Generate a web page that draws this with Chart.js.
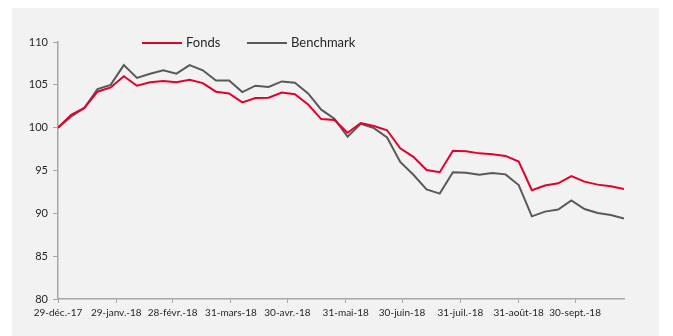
<!DOCTYPE html>
<html>
<head>
<meta charset="utf-8">
<script src="https://cdn.jsdelivr.net/npm/chart.js@4/dist/chart.umd.min.js"></script>
<style>
  html, body { margin: 0; padding: 0; background: #ffffff; }
  #wrap { position: relative; width: 673px; height: 336px; }
</style>
</head>
<body>
<div id="wrap"><canvas id="chart" width="673" height="336"></canvas></div>
<script>
// Weekly valuation dates (Fridays)
const dates = [
  '2017-12-29', '2018-01-05', '2018-01-12', '2018-01-19', '2018-01-26',
  '2018-02-02', '2018-02-09', '2018-02-16', '2018-02-23', '2018-03-02',
  '2018-03-09', '2018-03-16', '2018-03-23', '2018-03-30', '2018-04-06',
  '2018-04-13', '2018-04-20', '2018-04-27', '2018-05-04', '2018-05-11',
  '2018-05-18', '2018-05-25', '2018-06-01', '2018-06-08', '2018-06-15',
  '2018-06-22', '2018-06-29', '2018-07-06', '2018-07-13', '2018-07-20',
  '2018-07-27', '2018-08-03', '2018-08-10', '2018-08-17', '2018-08-24',
  '2018-08-31', '2018-09-07', '2018-09-14', '2018-09-21', '2018-09-28',
  '2018-10-05', '2018-10-12', '2018-10-19', '2018-10-26'
];

// Rebased performance (100 = 29/12/2017)
const fonds = [
  100, 101.5, 102.3, 104.2, 104.7, 106.0, 104.9, 105.3, 105.45, 105.3,
  105.6, 105.2, 104.2, 104.0, 102.95, 103.45, 103.5, 104.1, 103.9, 102.7,
  101.0, 100.9, 99.4, 100.55, 100.2, 99.7, 97.6, 96.6, 95.05, 94.8,
  97.3, 97.25, 97.0, 96.9, 96.7, 96.05, 92.7, 93.25, 93.5, 94.35,
  93.7, 93.35, 93.15, 92.85
];
const benchmark = [
  100, 101.3, 102.3, 104.5, 105.0, 107.3, 105.8, 106.3, 106.7, 106.3,
  107.3, 106.7, 105.5, 105.5, 104.15, 104.9, 104.75, 105.4, 105.25, 104.0,
  102.1, 101.05, 98.95, 100.45, 99.95, 98.85, 96.0, 94.5, 92.8, 92.3,
  94.8, 94.75, 94.5, 94.7, 94.55, 93.3, 89.65, 90.2, 90.45, 91.5,
  90.5, 90.05, 89.8, 89.4
];

// Date axis ticks and their labels
const tickDates = [
  '2017-12-29', '2018-01-29', '2018-02-28', '2018-03-31', '2018-04-30',
  '2018-05-31', '2018-06-30', '2018-07-31', '2018-08-31', '2018-09-30'
];
const tickLabels = [
  '29-déc.-17', '29-janv.-18', '28-févr.-18', '31-mars-18', '30-avr.-18',
  '31-mai-18', '30-juin-18', '31-juil.-18', '31-août-18', '30-sept.-18'
];
const yTicks = [80, 85, 90, 95, 100, 105, 110];

const seriesNames = ['Fonds', 'Benchmark'];
const seriesColors = ['#e4002b', '#595959'];

// Days elapsed since the first valuation date
const DAY = 86400000;
const origin = Date.parse(dates[0] + 'T00:00:00Z');
const toDay = d => Math.round((Date.parse(d + 'T00:00:00Z') - origin) / DAY);

const xDays = dates.map(toDay);
const tickDays = tickDates.map(toDay);

const FONT = 'Lato, "Open Sans", "DejaVu Sans", sans-serif';
const AXIS = '#a6a6a6';

const panelBackground = {
  id: 'panelBackground',
  beforeDraw(chart) {
    const ctx = chart.ctx;
    ctx.save();
    ctx.fillStyle = '#f2f2f2';
    ctx.fillRect(12, 8, 647, 328);
    ctx.restore();
  }
};

const lineLegend = {
  id: 'lineLegend',
  afterDraw(chart) {
    const ctx = chart.ctx;
    const y = 43;
    const items = [{ x: 142 }, { x: 247 }];
    ctx.save();
    ctx.font = '13px ' + FONT;
    ctx.textBaseline = 'middle';
    ctx.textAlign = 'left';
    chart.data.datasets.forEach((ds, i) => {
      const x0 = items[i].x;
      ctx.strokeStyle = ds.borderColor;
      ctx.lineWidth = 2;
      ctx.beginPath();
      ctx.moveTo(x0, y);
      ctx.lineTo(x0 + 40, y);
      ctx.stroke();
      ctx.fillStyle = '#262626';
      ctx.fillText(ds.label, x0 + 44, y);
    });
    ctx.restore();
  }
};

new Chart(document.getElementById('chart'), {
  type: 'line',
  data: {
    datasets: [
      {
        label: seriesNames[0],
        data: xDays.map((x, i) => ({ x, y: fonds[i] })),
        borderColor: seriesColors[0],
        backgroundColor: seriesColors[0],
        borderWidth: 2,
        pointRadius: 0,
        tension: 0
      },
      {
        label: seriesNames[1],
        data: xDays.map((x, i) => ({ x, y: benchmark[i] })),
        borderColor: seriesColors[1],
        backgroundColor: seriesColors[1],
        borderWidth: 2,
        pointRadius: 0,
        tension: 0
      }
    ]
  },
  options: {
    responsive: false,
    animation: false,
    events: [],
    layout: { padding: { left: 0, top: 42, right: 49, bottom: 0 } },
    plugins: {
      legend: { display: false },
      tooltip: { enabled: false }
    },
    scales: {
      x: {
        type: 'linear',
        min: 0,
        max: xDays[xDays.length - 1],
        afterBuildTicks(scale) {
          scale.ticks = tickDays.map(v => ({ value: v }));
        },
        afterFit(scale) { scale.height = 37; },
        ticks: {
          autoSkip: false,
          maxRotation: 0,
          minRotation: 0,
          padding: 4,
          color: '#262626',
          font: { family: FONT, size: 10 },
          callback(value) {
            const idx = tickDays.indexOf(value);
            return idx >= 0 ? tickLabels[idx] : '';
          }
        },
        grid: {
          display: true,
          drawOnChartArea: false,
          drawTicks: true,
          tickLength: 4,
          color: AXIS
        },
        border: { display: true, color: AXIS, width: 1.5 }
      },
      y: {
        min: yTicks[0],
        max: yTicks[yTicks.length - 1],
        afterBuildTicks(scale) {
          scale.ticks = yTicks.map(v => ({ value: v }));
        },
        afterFit(scale) { scale.width = 58; },
        ticks: {
          padding: 5,
          color: '#262626',
          font: { family: FONT, size: 11 }
        },
        grid: {
          display: true,
          drawOnChartArea: false,
          drawTicks: true,
          tickLength: 5,
          color: AXIS
        },
        border: { display: true, color: AXIS, width: 1.5 }
      }
    }
  },
  plugins: [panelBackground, lineLegend]
});
</script>
</body>
</html>
